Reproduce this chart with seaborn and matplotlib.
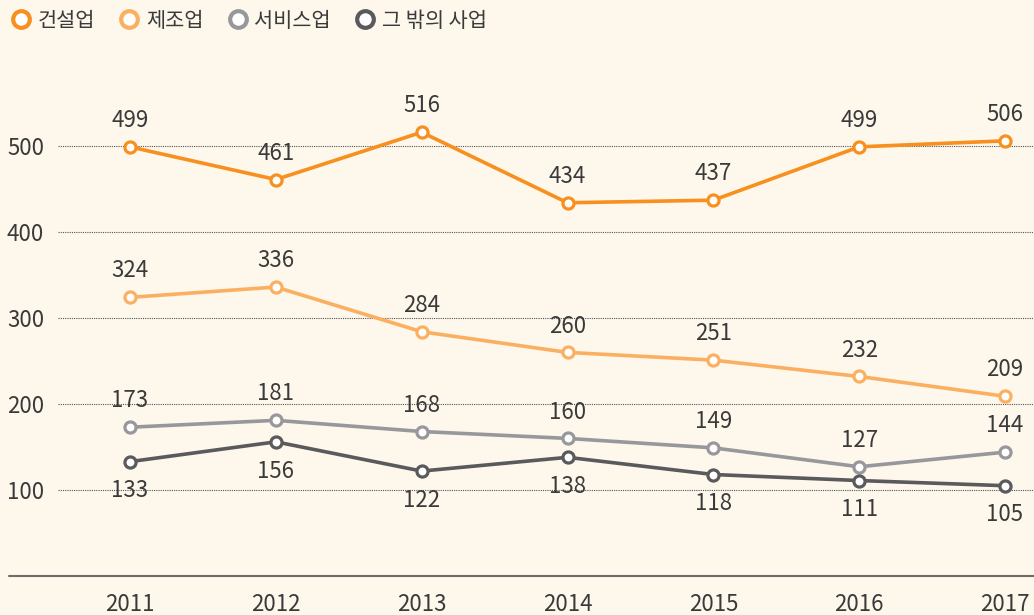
import pandas as pd
import matplotlib.pyplot as plt
from matplotlib.lines import Line2D
import seaborn as sns

# 데이터
years = [2011, 2012, 2013, 2014, 2015, 2016, 2017]
construction = [499, 461, 516, 434, 437, 499, 506]
manufacturing = [324, 336, 284, 260, 251, 232, 209]
service = [173, 181, 168, 160, 149, 127, 144]
others = [133, 156, 122, 138, 118, 111, 105]

names = ['건설업', '제조업', '서비스업', '그 밖의 사업']
colors = ['#f7901e', '#fbb061', '#98989c', '#5a595c']
label_side = [1, 1, 1, -1]  # 1: 위, -1: 아래

df = pd.DataFrame({'연도': years, '건설업': construction, '제조업': manufacturing,
                   '서비스업': service, '그 밖의 사업': others})
df_long = df.melt(id_vars='연도', var_name='업종', value_name='값')

sns.set_theme(style='white')
plt.rcParams['font.family'] = ['Noto Sans CJK KR', 'DejaVu Sans']
bg = '#fdf7ec'
txt = '#3a3a3a'

fig = plt.figure(figsize=(10.34, 6.15), dpi=100, facecolor=bg)
ax = fig.add_axes([58 / 1034, 39 / 615, 976 / 1034, 516 / 615])
ax.set_facecolor(bg)

sns.lineplot(data=df_long, x='연도', y='값', hue='업종', hue_order=names,
             palette=colors, marker='o', markersize=8, markerfacecolor='white',
             markeredgewidth=2.3, linewidth=2.6, legend=False, ax=ax)
for line, c in zip(ax.lines, colors):
    line.set_markeredgecolor(c)

# 값 라벨
for name, side in zip(names, label_side):
    for x, v in zip(years, df[name]):
        ax.annotate(str(v), (x, v), xytext=(0, 19 if side > 0 else -21),
                    textcoords='offset points', ha='center', va='center',
                    fontsize=16, color=txt)

ax.set_xlim(2010.506, 2017.199)
ax.set_ylim(0, 600)
ax.set_yticks([100, 200, 300, 400, 500])
ax.set_xticks(years)
for yv in [100, 200, 300, 400, 500]:
    ax.axhline(yv, color='#555555', linestyle=(0, (1, 1)), linewidth=0.8, zorder=0)
for s in ax.spines.values():
    s.set_visible(False)
ax.tick_params(axis='y', length=0, pad=10, labelsize=16, labelcolor=txt)
ax.tick_params(axis='x', length=0, pad=12, labelsize=16, labelcolor=txt)
ax.set_xlabel('')
ax.set_ylabel('')

# 아래 축선
fig.add_artist(Line2D([9 / 1034, 1], [39 / 615, 39 / 615], color='#6e6b68',
                      linewidth=1.5, transform=fig.transFigure))

# 범례
handles = [Line2D([], [], linestyle='none', marker='o', markersize=12,
                  markerfacecolor='white', markeredgecolor=c, markeredgewidth=3)
           for c in colors]
fig.legend(handles, names, loc='upper left', bbox_to_anchor=(-0.008, 1.015), ncol=4,
           frameon=False, prop={'size': 15}, handlelength=1.0,
           handletextpad=0.3, columnspacing=1.15, labelcolor=txt)

fig.savefig('out.png', dpi=100, facecolor=bg)
